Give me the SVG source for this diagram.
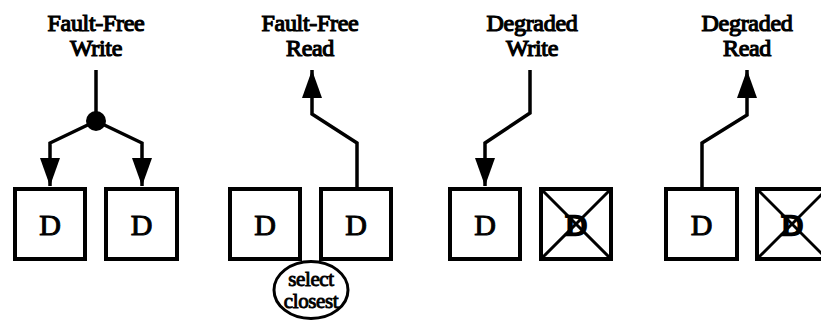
<svg xmlns="http://www.w3.org/2000/svg" width="821" height="331" viewBox="0 0 821 331">
  <defs>
    <marker id="arrow" markerUnits="userSpaceOnUse" viewBox="0 0 28 20" refX="28" refY="10" markerWidth="28" markerHeight="20" orient="auto">
      <path d="M0,0 L28,10 L0,20 Z" fill="#000"/>
    </marker>
    <style>
      .title { font-family: "Liberation Serif", "Times New Roman", "DejaVu Serif", serif; font-size: 24px; text-anchor: middle; fill: #000; stroke: #000; stroke-width: 1.2; letter-spacing: -0.3px; }
      .disk { fill: #fff; stroke: #000; stroke-width: 4; }
      .label { font-family: "Liberation Serif", "Times New Roman", "DejaVu Serif", serif; font-size: 30px; text-anchor: middle; fill: #000; stroke: #000; stroke-width: 1; }
      .failed-label { font-family: "Liberation Serif", "Times New Roman", "DejaVu Serif", serif; font-size: 30px; text-anchor: middle; fill: #000; stroke: #000; stroke-width: 2.4; }
      .cross { stroke: #000; stroke-width: 3; }
      .wire { fill: none; stroke: #000; stroke-width: 3.5; stroke-linejoin: miter; }
      .note { font-family: "Liberation Serif", "Times New Roman", "DejaVu Serif", serif; font-size: 21px; text-anchor: middle; fill: #000; stroke: #000; stroke-width: 0.9; letter-spacing: -0.4px; }
    </style>
  </defs>
  <rect width="821" height="331" fill="#fff"/>

  <!-- Titles -->
  <g id="title-ff-write">
    <text class="title" x="96" y="31">Fault-Free</text>
    <text class="title" x="96" y="56">Write</text>
  </g>
  <g id="title-ff-read">
    <text class="title" x="310" y="31">Fault-Free</text>
    <text class="title" x="310" y="56">Read</text>
  </g>
  <g id="title-deg-write">
    <text class="title" x="532" y="31">Degraded</text>
    <text class="title" x="532" y="56">Write</text>
  </g>
  <g id="title-deg-read">
    <text class="title" x="747" y="31">Degraded</text>
    <text class="title" x="747" y="56">Read</text>
  </g>

  <!-- Disks -->
  <g id="ffw-disk1">
    <rect class="disk" x="15" y="189" width="70" height="70"/>
    <text class="label" x="50" y="235">D</text>
  </g>
  <g id="ffw-disk2">
    <rect class="disk" x="106" y="189" width="71" height="70"/>
    <text class="label" x="141.5" y="235">D</text>
  </g>
  <g id="ffr-disk1">
    <rect class="disk" x="230" y="189" width="70" height="70"/>
    <text class="label" x="265" y="235">D</text>
  </g>
  <g id="ffr-disk2">
    <rect class="disk" x="321" y="189" width="70" height="70"/>
    <text class="label" x="356" y="235">D</text>
  </g>
  <g id="dw-disk1">
    <rect class="disk" x="450" y="189" width="70" height="70"/>
    <text class="label" x="485" y="235">D</text>
  </g>
  <g id="dw-disk2-failed">
    <rect class="disk" x="541" y="189" width="70" height="70"/>
    <text class="failed-label" x="576" y="235">D</text>
    <line class="cross" x1="541" y1="189" x2="611" y2="259"/>
    <line class="cross" x1="611" y1="189" x2="541" y2="259"/>
  </g>
  <g id="dr-disk1">
    <rect class="disk" x="666" y="189" width="71" height="70"/>
    <text class="label" x="701.5" y="235">D</text>
  </g>
  <g id="dr-disk2-failed">
    <rect class="disk" x="757" y="189" width="70" height="70"/>
    <text class="failed-label" x="792" y="235">D</text>
    <line class="cross" x1="757" y1="189" x2="827" y2="259"/>
    <line class="cross" x1="827" y1="189" x2="757" y2="259"/>
  </g>

  <!-- Read selector -->
  <g id="select-closest">
    <ellipse cx="311" cy="290" rx="37" ry="28.5" fill="#fff" stroke="#000" stroke-width="3"/>
    <text class="note" x="311" y="286">select</text>
    <text class="note" x="311" y="308">closest</text>
  </g>

  <!-- Connectors -->
  <g id="connectors">
    <path class="wire" d="M96,70 V121"/>
    <path class="wire" d="M96,121 L50,143 V186" marker-end="url(#arrow)"/>
    <path class="wire" d="M96,121 L142,143 V186" marker-end="url(#arrow)"/>
    <circle cx="96" cy="121" r="10" fill="#000"/>

    <path class="wire" d="M357,187 V143 L312,114 V70" marker-end="url(#arrow)"/>

    <path class="wire" d="M530,70 V113 L485,143 V186" marker-end="url(#arrow)"/>

    <path class="wire" d="M702,187 V143 L747,115 V70" marker-end="url(#arrow)"/>
  </g>
</svg>
